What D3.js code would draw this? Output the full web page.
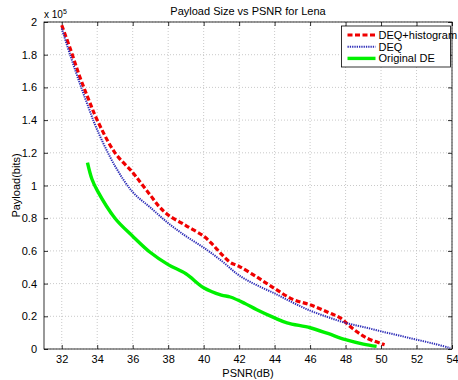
<!DOCTYPE html>
<html>
<head>
<meta charset="utf-8">
<script src="https://cdn.jsdelivr.net/npm/d3@7"></script>
<style>
  body { margin: 0; background: #fff; }
  text { font-family: "Liberation Sans", Arial, sans-serif; fill: #000; }
</style>
</head>
<body>
<script>
// values, payload in units of 1e5 bits
const histPsnr = [32, 32.5, 33, 33.5, 34, 35, 36, 36.5, 37, 37.5, 38, 39, 40, 40.5, 41, 41.5, 42, 43, 44, 45, 46, 47, 47.7, 48.4, 49.2, 50.2];
const histPayload = [1.98, 1.83, 1.67, 1.53, 1.40, 1.20, 1.08, 1.01, 0.94, 0.87, 0.82, 0.755, 0.69, 0.64, 0.58, 0.53, 0.505, 0.44, 0.37, 0.305, 0.27, 0.225, 0.19, 0.125, 0.067, 0.026];

const deqPsnr = [32, 32.5, 33, 33.5, 34, 35, 36, 37, 38, 39, 40, 41, 42, 43, 44, 45, 46, 47, 48, 49, 50, 51, 52, 53, 53.9];
const deqPayload = [1.96, 1.79, 1.63, 1.48, 1.34, 1.12, 0.96, 0.865, 0.77, 0.69, 0.62, 0.54, 0.45, 0.39, 0.34, 0.285, 0.235, 0.195, 0.16, 0.135, 0.108, 0.083, 0.057, 0.032, 0.006];

const dePsnr = [33.45, 33.7, 34, 35, 36, 37, 38, 39, 40, 41, 41.5, 42.3, 43, 44, 44.7, 46, 47, 48, 49, 49.75];
const dePayload = [1.14, 1.04, 0.97, 0.80, 0.69, 0.59, 0.516, 0.46, 0.375, 0.33, 0.318, 0.28, 0.24, 0.19, 0.16, 0.13, 0.095, 0.057, 0.03, 0.016];

const xTicks = [32, 34, 36, 38, 40, 42, 44, 46, 48, 50, 52, 54];
const yTicks = [0, 0.2, 0.4, 0.6, 0.8, 1, 1.2, 1.4, 1.6, 1.8, 2];

const series = [
  { name: 'DEQ+histogram', x: histPsnr, y: histPayload, color: '#f00000', width: 3.2, dash: '5,2.5' },
  { name: 'DEQ', x: deqPsnr, y: deqPayload, color: '#2e2eb8', width: 2, dash: '1.3,1' },
  { name: 'Original DE', x: dePsnr, y: dePayload, color: '#00f000', width: 3.4, dash: null }
];

const width = 458;
const height = 380;
const margin = { top: 22, right: 6, bottom: 31, left: 44 };
const innerW = width - margin.left - margin.right;
const innerH = height - margin.top - margin.bottom;

const svg = d3.select('body').append('svg')
  .attr('width', width)
  .attr('height', height);

const xScale = d3.scaleLinear().domain([31, 54]).range([0, innerW]);
const yScale = d3.scaleLinear().domain([0, 2]).range([innerH, 0]);

const plot = svg.append('g')
  .attr('transform', `translate(${margin.left}, ${margin.top})`);

// dotted grid
plot.append('g').selectAll('line')
  .data(xTicks)
  .join('line')
  .attr('x1', (d) => xScale(d)).attr('x2', (d) => xScale(d))
  .attr('y1', 0).attr('y2', innerH)
  .attr('stroke', '#bbb').attr('stroke-width', 0.8).attr('stroke-dasharray', '1,2');

plot.append('g').selectAll('line')
  .data(yTicks)
  .join('line')
  .attr('y1', (d) => yScale(d)).attr('y2', (d) => yScale(d))
  .attr('x1', 0).attr('x2', innerW)
  .attr('stroke', '#bbb').attr('stroke-width', 0.8).attr('stroke-dasharray', '1,2');

// axes, ticks pointing inward like matlab
const xAxis = d3.axisBottom(xScale).tickValues(xTicks).tickSize(-4).tickPadding(6).tickFormat(d3.format('d'));
const yAxis = d3.axisLeft(yScale).tickValues(yTicks).tickSize(-4).tickPadding(7).tickFormat((d) => d3.format('~g')(d));

plot.append('g')
  .attr('transform', `translate(0, ${innerH})`)
  .call(xAxis);
plot.append('g').call(yAxis);

plot.append('g').call(d3.axisTop(xScale).tickValues(xTicks).tickSize(-4).tickFormat(''));
plot.append('g').attr('transform', `translate(${innerW}, 0)`)
  .call(d3.axisRight(yScale).tickValues(yTicks).tickSize(-4).tickFormat(''));

plot.selectAll('.domain').remove();
plot.selectAll('.tick line').attr('stroke', '#000').attr('stroke-width', 0.8);
plot.selectAll('.tick text').style('font-size', '11px').style('font-family', '"Liberation Sans", Arial, sans-serif');

plot.append('rect')
  .attr('width', innerW).attr('height', innerH)
  .attr('fill', 'none').attr('stroke', '#000').attr('stroke-width', 0.8);

// curves
const line = d3.line()
  .x((d) => xScale(d[0]))
  .y((d) => yScale(d[1]))
  .curve(d3.curveCatmullRom.alpha(0.5));

series.forEach((s) => {
  plot.append('path')
    .datum(s.x.map((v, i) => [v, s.y[i]]))
    .attr('fill', 'none')
    .attr('stroke', s.color)
    .attr('stroke-width', s.width)
    .attr('stroke-dasharray', s.dash)
    .attr('d', line);
});

// legend
const legend = svg.append('g').attr('transform', 'translate(341.5, 26)');
legend.append('rect')
  .attr('width', 109).attr('height', 41)
  .attr('fill', '#fff').attr('stroke', '#000').attr('stroke-width', 0.8);

series.forEach((s, i) => {
  const y = 9 + i * 11.7;
  legend.append('line')
    .attr('x1', 6).attr('x2', 34).attr('y1', y).attr('y2', y)
    .attr('stroke', s.color)
    .attr('stroke-width', s.width)
    .attr('stroke-dasharray', s.dash);
  legend.append('text')
    .attr('x', 37).attr('y', y + 4)
    .style('font-size', '11px')
    .text(s.name);
});

// titles
svg.append('text')
  .attr('x', margin.left + innerW / 2).attr('y', 15)
  .attr('text-anchor', 'middle')
  .style('font-size', '11px')
  .text('Payload Size vs PSNR for Lena');

svg.append('text')
  .attr('x', margin.left + innerW / 2).attr('y', 377)
  .attr('text-anchor', 'middle')
  .style('font-size', '11px')
  .text('PSNR(dB)');

svg.append('text')
  .attr('transform', `translate(20, ${margin.top + innerH / 2}) rotate(-90)`)
  .attr('text-anchor', 'middle')
  .style('font-size', '11px')
  .text('Payload(bits)');

const exp = svg.append('text')
  .attr('x', 44).attr('y', 18)
  .style('font-size', '10px');
exp.append('tspan').text('x 10');
exp.append('tspan').attr('dy', -4).style('font-size', '7px').text('5');
</script>
</body>
</html>
